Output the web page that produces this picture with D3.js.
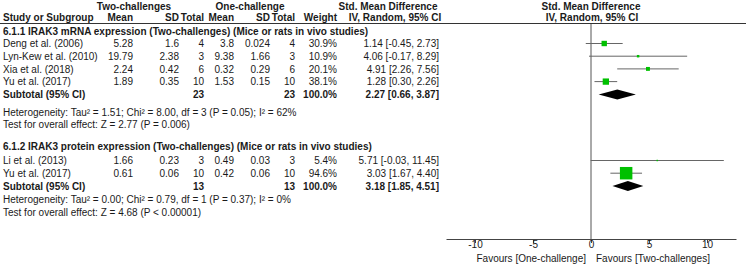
<!DOCTYPE html>
<html>
<head>
<meta charset="utf-8">
<script src="https://cdn.jsdelivr.net/npm/d3@7"></script>
<style>
  body { margin: 0; background: #fff; }
  svg text { font-family: 'Liberation Sans', Arial, sans-serif; font-size: 10px; fill: #1a1a1a; }
  .b { font-weight: bold; }
</style>
</head>
<body>
<svg width="746" height="264"></svg>
<script>
// Subgroup 6.1.1 - mRNA
const studies1 = ['Deng et al. (2006)', 'Lyn-Kew et al. (2010)', 'Xia et al. (2018)', 'Yu et al. (2017)']
const twoMean1 = [5.28, 19.79, 2.24, 1.89]
const twoSd1 = [1.6, 2.38, 0.42, 0.35]
const twoN1 = [4, 3, 6, 10]
const oneMean1 = [3.8, 9.38, 0.32, 1.53]
const oneSd1 = [0.024, 1.66, 0.29, 0.15]
const oneN1 = [4, 3, 6, 10]
const weight1 = [30.9, 10.9, 20.1, 38.1]
const smd1 = [1.14, 4.06, 4.91, 1.28]
const lo1 = [-0.45, -0.17, 2.26, 0.3]
const hi1 = [2.73, 8.29, 7.56, 2.26]
const sub1 = { n: 23, est: 2.27, lo: 0.66, hi: 3.87 }

// Subgroup 6.1.2 - protein
const studies2 = ['Li et al. (2013)', 'Yu et al. (2017)']
const twoMean2 = [1.66, 0.61]
const twoSd2 = [0.23, 0.06]
const twoN2 = [3, 10]
const oneMean2 = [0.49, 0.42]
const oneSd2 = [0.03, 0.06]
const oneN2 = [3, 10]
const weight2 = [5.4, 94.6]
const smd2 = [5.71, 3.03]
const lo2 = [-0.03, 1.67]
const hi2 = [11.45, 4.4]
const sub2 = { n: 13, est: 3.18, lo: 1.85, hi: 4.51 }

const axisTicks = [-10, -5, 0, 5, 10]

const svg = d3.select('svg')

// forest plot scale
const x = d3.scaleLinear().domain([-12.5, 12.5]).range([446, 736])
const sq = d3.scalePow().exponent(0.75).domain([0, 100]).range([0, 13])

// column right edges
const col = { m1: 133, s1: 179, n1: 204, m2: 234, s2: 270, n2: 295, w: 337, ci: 439 }

const txt = (xx, yy, s, anchor, bold) =>
  svg.append('text').attr('x', xx).attr('y', yy + 3.6).attr('text-anchor', anchor || 'start')
    .attr('class', bold ? 'b' : null).text(s)

const ciStr = (e, l, h) => `${e.toFixed(2)} [${l.toFixed(2)}, ${h.toFixed(2)}]`

// headers
txt(134, 6, 'Two-challenges', 'middle', true)
txt(250, 6, 'One-challenge', 'middle', true)
txt(388, 6, 'Std. Mean Difference', 'middle', true)
txt(591, 6, 'Std. Mean Difference', 'middle', true)
txt(3, 17, 'Study or Subgroup', 'start', true)
txt(col.m1, 17, 'Mean', 'end', true)
txt(col.s1, 17, 'SD', 'end', true)
txt(col.n1, 17, 'Total', 'end', true)
txt(col.m2, 17, 'Mean', 'end', true)
txt(col.s2, 17, 'SD', 'end', true)
txt(col.n2, 17, 'Total', 'end', true)
txt(col.w, 17, 'Weight', 'end', true)
txt(395, 17, 'IV, Random, 95% CI', 'middle', true)
txt(592, 17, 'IV, Random, 95% CI', 'middle', true)

svg.append('line').attr('x1', 0).attr('x2', 746).attr('y1', 23.5).attr('y2', 23.5)
  .attr('stroke', '#333').attr('stroke-width', 1)

// zero line
svg.append('line').attr('x1', x(0)).attr('x2', x(0)).attr('y1', 24).attr('y2', 239)
  .attr('stroke', '#555').attr('stroke-width', 1)

const drawGroup = (g) => {
  txt(3, g.titleY, g.title, 'start', true)
  g.names.forEach((name, i) => {
    const y = g.rowY[i]
    txt(3, y, name)
    txt(col.m1, y, String(g.tm[i]), 'end')
    txt(col.s1, y, String(g.ts[i]), 'end')
    txt(col.n1, y, String(g.tn[i]), 'end')
    txt(col.m2, y, String(g.om[i]), 'end')
    txt(col.s2, y, String(g.os[i]), 'end')
    txt(col.n2, y, String(g.on[i]), 'end')
    txt(col.w, y, g.w[i].toFixed(1) + '%', 'end')
    txt(col.ci, y, ciStr(g.est[i], g.lo[i], g.hi[i]), 'end')

    svg.append('line').attr('x1', x(g.lo[i])).attr('x2', x(g.hi[i]))
      .attr('y1', y).attr('y2', y).attr('stroke', '#666').attr('stroke-width', 1)
    const s = sq(g.w[i])
    svg.append('rect').attr('x', x(g.est[i]) - s / 2).attr('y', y - s / 2)
      .attr('width', s).attr('height', s).attr('fill', '#00c000')
  })
  const y = g.subY
  txt(3, y, 'Subtotal (95% CI)', 'start', true)
  txt(col.n1, y, String(g.sub.n), 'end', true)
  txt(col.n2, y, String(g.sub.n), 'end', true)
  txt(col.w, y, '100.0%', 'end', true)
  txt(col.ci, y, ciStr(g.sub.est, g.sub.lo, g.sub.hi), 'end', true)
  svg.append('path')
    .attr('d', `M${x(g.sub.lo)},${y} L${x(g.sub.est)},${y - 5} L${x(g.sub.hi)},${y} L${x(g.sub.est)},${y + 5}Z`)
    .attr('fill', '#000')
  txt(3, g.hetY, g.het)
  txt(3, g.hetY + 12.5, g.test)
}

drawGroup({
  title: '6.1.1 IRAK3 mRNA expression (Two-challenges) (Mice or rats in vivo studies)',
  titleY: 31, rowY: [43.5, 56.2, 68.9, 81.6], subY: 94.5, hetY: 112,
  names: studies1, tm: twoMean1, ts: twoSd1, tn: twoN1, om: oneMean1, os: oneSd1, on: oneN1,
  w: weight1, est: smd1, lo: lo1, hi: hi1, sub: sub1,
  het: 'Heterogeneity: Tau² = 1.51; Chi² = 8.00, df = 3 (P = 0.05); I² = 62%',
  test: 'Test for overall effect: Z = 2.77 (P = 0.006)'
})

drawGroup({
  title: '6.1.2 IRAK3 protein expression (Two-challenges) (Mice or rats in vivo studies)',
  titleY: 146.5, rowY: [160.5, 173.2], subY: 186, hetY: 199.5,
  names: studies2, tm: twoMean2, ts: twoSd2, tn: twoN2, om: oneMean2, os: oneSd2, on: oneN2,
  w: weight2, est: smd2, lo: lo2, hi: hi2, sub: sub2,
  het: 'Heterogeneity: Tau² = 0.00; Chi² = 0.79, df = 1 (P = 0.37); I² = 0%',
  test: 'Test for overall effect: Z = 4.68 (P < 0.00001)'
})

// axis
const axis = svg.append('g').attr('transform', 'translate(0,239)')
  .call(d3.axisBottom(x).tickValues(axisTicks).tickSize(4).tickSizeOuter(0).tickFormat(d => String(d)))
axis.attr('font-family', null).attr('font-size', null)
axis.select('.domain').attr('stroke', '#444')
axis.selectAll('.tick line').attr('stroke', '#444')
axis.selectAll('.tick text').attr('fill', null).attr('dy', '0.6em').attr('y', 3)

txt(x(0) - 5, 258, 'Favours [One-challenge]', 'end')
txt(x(0) + 5, 258, 'Favours [Two-challenges]', 'start')
</script>
</body>
</html>
